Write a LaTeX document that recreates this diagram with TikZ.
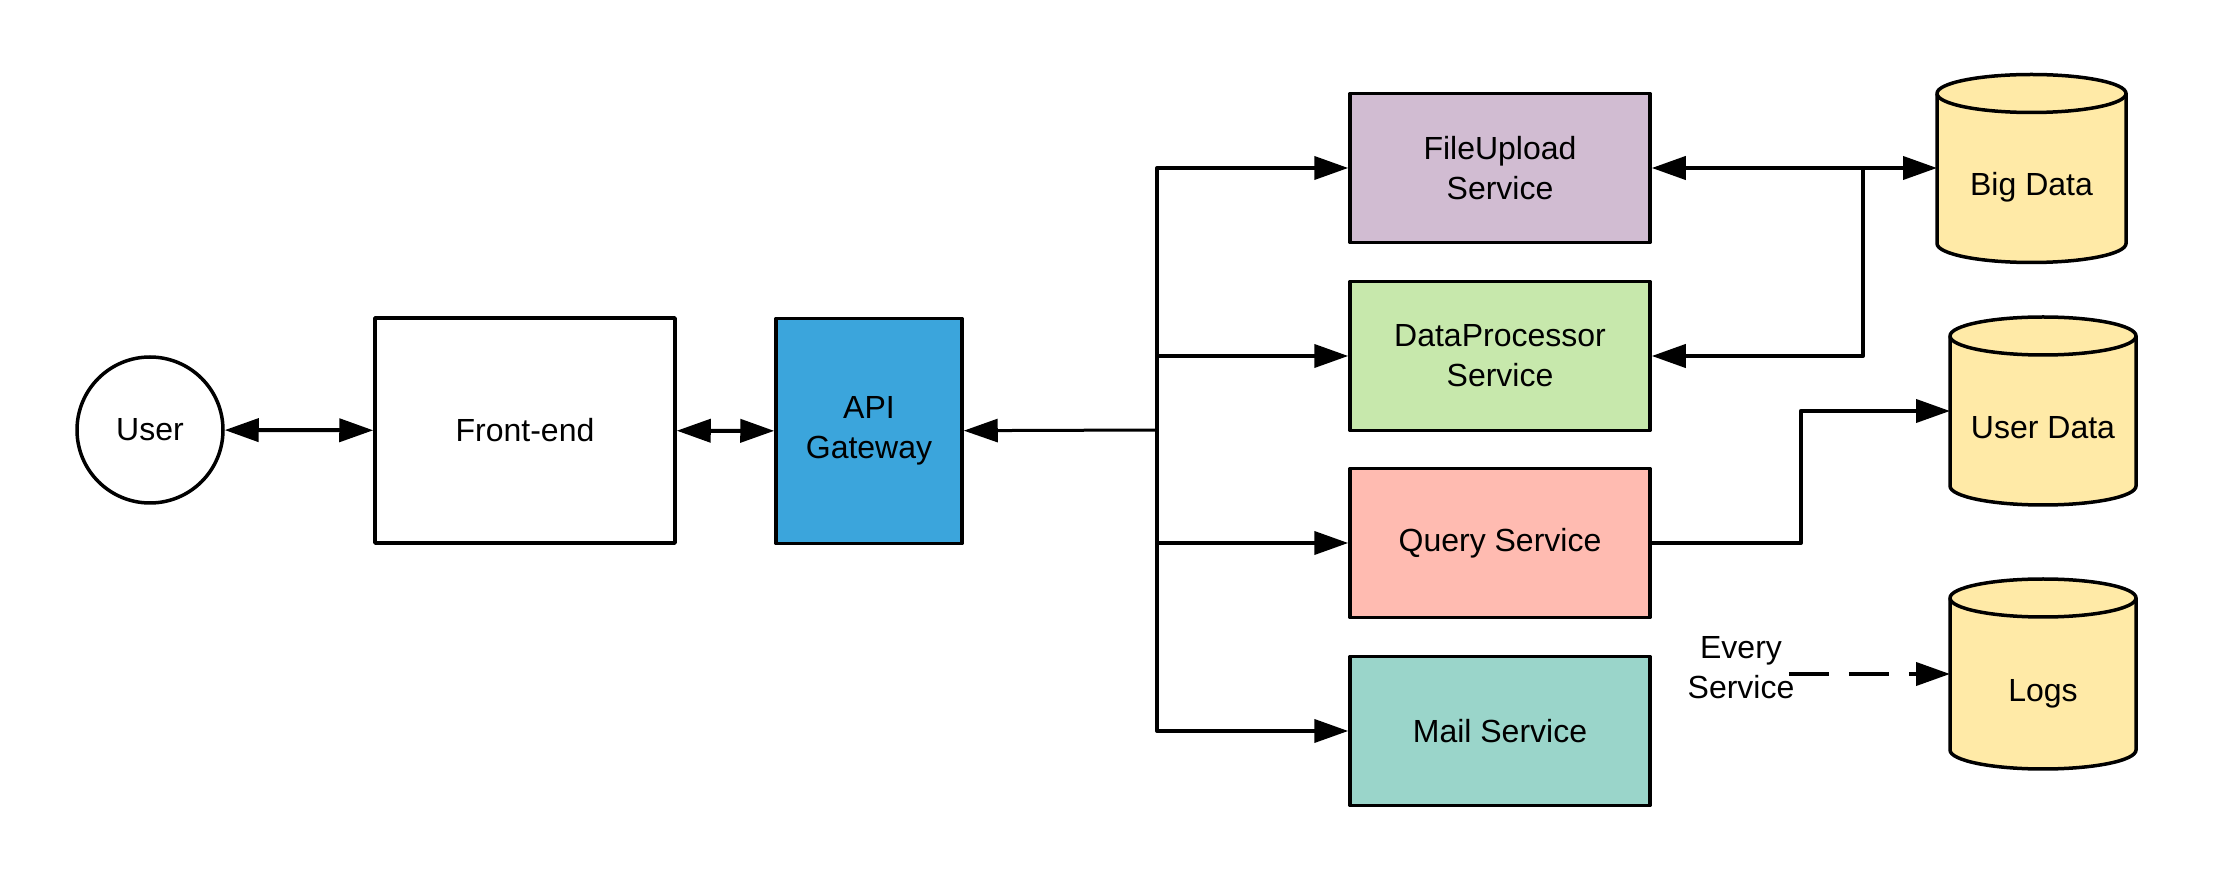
\documentclass[tikz,border=0pt]{standalone}
\usepackage{fontspec}
\setmainfont{Liberation Sans}
\usetikzlibrary{arrows.meta,backgrounds}
\definecolor{gwblue}{RGB}{59,165,220}
\definecolor{fucol}{RGB}{209,188,210}
\definecolor{dpcol}{RGB}{199,232,172}
\definecolor{qscol}{RGB}{255,187,177}
\definecolor{mscol}{RGB}{154,213,202}
\definecolor{dbcol}{RGB}{255,234,167}
\begin{document}
\begin{tikzpicture}[x = .5pt, y = -.5pt, join = round,
	font = \fontsize{16pt}{20pt}\selectfont,
	>={Triangle[length=17pt,width=11.5pt]},
	box/.style = {draw, line width = 1.75pt, minimum width = 150pt, minimum height = 74.5pt, align = center, inner sep = 0pt},
	db/.style = {minimum width = 93pt, minimum height = 94pt, inner sep = 0pt, outer sep = 0pt, text height = 31pt, text depth = 3.5pt},
	wire/.style = {line width = 2pt}]
	\def\ry{9.5pt} %half height of the cylinder caps
	\useasboundingbox (0,0) rectangle (2213,881);
	
	\node[circle, draw, line width = 1.75pt, minimum size = 73pt, inner sep = 0pt] (user) at (150,430) {User};
	\node[box, minimum height = 112.5pt] (front) at (525,430.5) {Front-end};
	\node[box, fill = gwblue, minimum width = 93pt, minimum height = 112.5pt] (gate) at (869,431) {API\\Gateway};
	\node[box, fill = fucol] (file) at (1500,168) {FileUpload\\Service};
	\node[box, fill = dpcol] (proc) at (1500,356) {DataProcessor\\Service};
	\node[box, fill = qscol] (query) at (1500,543) {Query Service};
	\node[box, fill = mscol] (mail) at (1500,731) {Mail Service};
	\node[db, minimum width = 94.5pt] (bigdata) at (2031.5,168.5) {Big Data};
	\node[db] (userdata) at (2043,411) {User Data};
	\node[db, minimum height = 95pt] (logs) at (2043,674) {Logs};
	\node[inner sep = 0pt, align = center] (every) at (1741,668) {Every\\Service};
	
	\path 
	(1157,430) coordinate (bus)
	(1863,168) coordinate (split)
	;
	
	\begin{scope}[on background layer]
		\fill[white] (0,0) rectangle (2213,881);
		\foreach \d/\rx in {bigdata/47.25pt,userdata/46.5pt,logs/46.5pt}{
			\draw[line width = 1.75pt, fill = dbcol] 
			([yshift=-\ry]\d.north west) -- ([yshift=\ry]\d.south west)
			arc (180:360:{\rx} and {\ry}) -- ([yshift=-\ry]\d.north east)
			arc (0:180:{\rx} and {\ry}) -- cycle;
			\draw[line width = 1.75pt] ([yshift=-\ry]\d.north west) arc (180:360:{\rx} and {\ry});
		}
	\end{scope}
	
	\draw[wire, <->] (user) -- (front);
	\draw[wire, <->] (front) -- (gate);
	\draw[line width = 1.5pt, ->] (bus) -- (gate);
	\foreach \s in {file,proc,query,mail}
	\draw[wire, ->] (bus) |- (\s);
	\draw[wire, <->] (file.east) -- (file.east -| bigdata.west);
	\draw[wire, ->] (split) |- (proc);
	\draw[wire, ->] (query.east) -- ++(149,0) |- (userdata);
	\draw[wire, ->, dash pattern = on 20pt off 10pt] ([xshift=-3pt]every.east |- logs) -- (logs);
\end{tikzpicture}
\end{document}
